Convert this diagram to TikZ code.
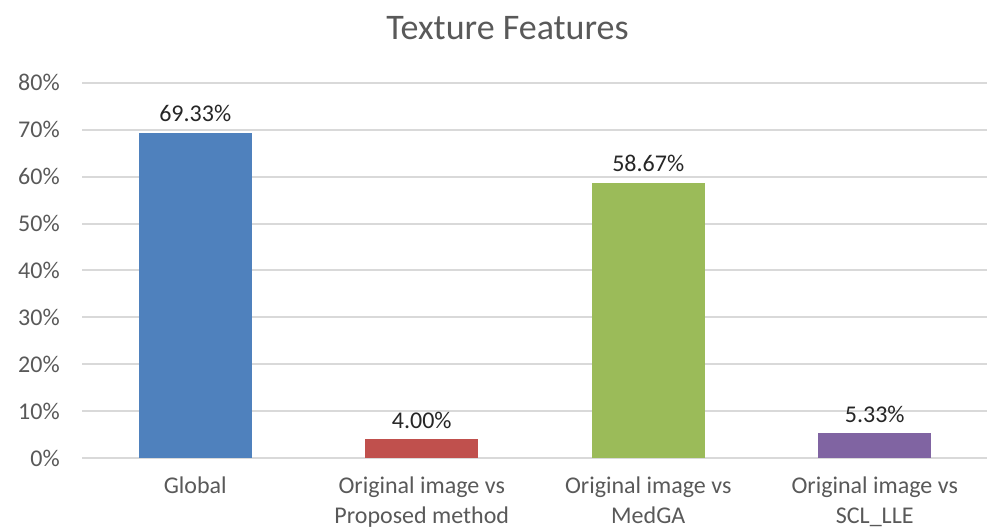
\documentclass[tikz,border=0pt]{standalone}
\usepackage{fontspec}
\setmainfont{Carlito}
\usetikzlibrary{positioning}

\definecolor{barblue}{HTML}{4F81BD}
\definecolor{barred}{HTML}{C0504D}
\definecolor{bargreen}{HTML}{9BBB59}
\definecolor{barpurple}{HTML}{8064A2}
\definecolor{gridgray}{HTML}{D9D9D9}
\definecolor{axisgray}{HTML}{595959}
\definecolor{valgray}{HTML}{262626}

\begin{document}
\begin{tikzpicture}[
    x=0.75pt, y=-0.75pt,
    grid/.style  = {draw=gridgray, line width=1.5pt},
    tick/.style  = {anchor=base east, inner sep=0pt, text=axisgray,
                    font=\fontsize{18}{21}\selectfont},
    cat/.style   = {anchor=north, inner sep=0pt, text=axisgray, align=center,
                    font=\fontsize{18}{22}\selectfont},
    val/.style   = {anchor=base, inner sep=0pt, text=valgray,
                    font=\fontsize{18}{21}\selectfont},
    ttl/.style   = {anchor=base, inner sep=0pt, text=axisgray,
                    font=\fontsize{27}{32}\selectfont},
  ]
  \useasboundingbox (0,0) rectangle (987,529);
  % value axis: 0% at y=458, 10% every 46.9
  \foreach \k [evaluate=\k as \p using int(10*\k)] in {0,...,8}{
    \draw[grid] (82,{458-46.9*\k}) -- (987,{458-46.9*\k});
    \node[tick] (t\k) at (60,{466-46.9*\k}) {\p\%};
  }
  % bars
  \foreach \i/\cx/\v/\c in {1/195.25/69.33/barblue, 2/421.75/4.00/barred,
                            3/648.25/58.67/bargreen, 4/874.75/5.33/barpurple}{
    \fill[\c] (\cx-56.5,458) rectangle (\cx+56.5,{458-4.69*\v});
    \node[val] (v\i) at (\cx,{447-4.69*\v}) {\v\%};
  }
  % category labels
  \node[cat] (g1) at (195.25,477) {Global};
  \node[cat] (g2) at (421.75,477) {Original image vs\\Proposed method};
  \node[cat] (g3) at (648.25,477) {Original image vs\\MedGA};
  \node[cat] (g4) at (874.75,477) {Original image vs\\SCL\_LLE};
  % title
  \node[ttl] (title) at (507.5,39) {Texture Features};
\end{tikzpicture}
\end{document}
